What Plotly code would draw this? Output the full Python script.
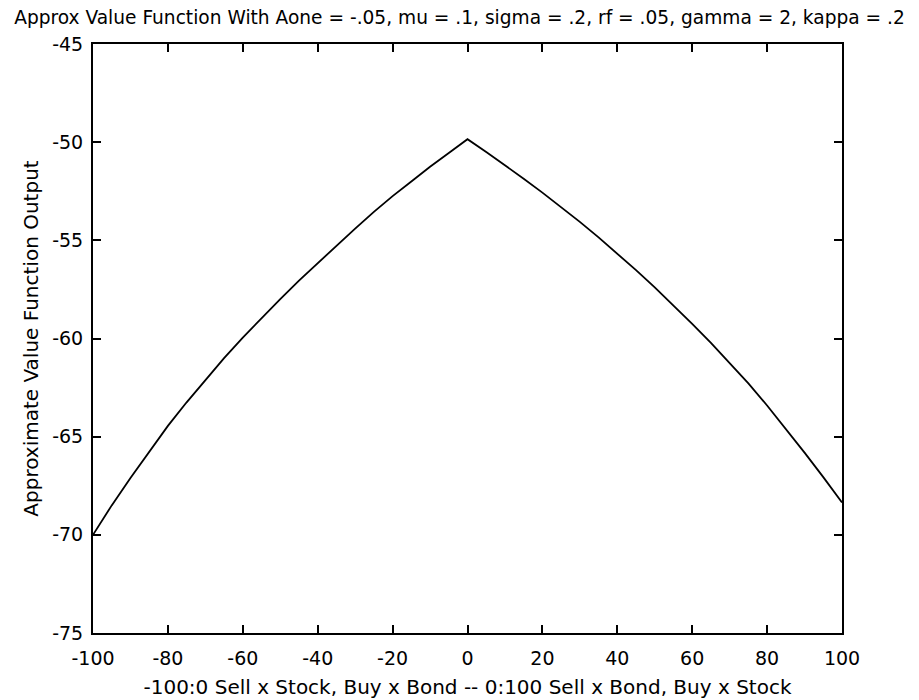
import plotly.graph_objects as go

x_vals = [-100, -95, -90, -85, -80, -75, -70, -65, -60, -55, -50, -45, -40, -35, -30,
          -25, -20, -15, -10, -5, 0, 5, 10, 15, 20, 25, 30, 35, 40, 45, 50, 55, 60,
          65, 70, 75, 80, 85, 90, 95, 100]
y_vals = [-70.0, -68.5, -67.1, -65.75, -64.45, -63.25, -62.1, -61.0, -59.95, -58.95, -58.0,
          -57.05, -56.15, -55.25, -54.4, -53.55, -52.75, -52.0, -51.25, -50.55, -49.85,
          -50.5, -51.17, -51.86, -52.57, -53.3, -54.06, -54.85, -55.67, -56.52, -57.4,
          -58.31, -59.25, -60.22, -61.23, -62.29, -63.41, -64.59, -65.81, -67.06, -68.35]

x_ticks = [-100, -80, -60, -40, -20, 0, 20, 40, 60, 80, 100]
y_ticks = [-75, -70, -65, -60, -55, -50, -45]

title_text = "Approx Value Function With Aone = -.05, mu = .1, sigma = .2, rf = .05, gamma = 2, kappa = .2"
x_title = "-100:0 Sell x Stock, Buy x Bond -- 0:100 Sell x Bond, Buy x Stock"
y_title = "Approximate Value Function Output"

font_family = "DejaVu Sans, Liberation Sans, sans-serif"

fig = go.Figure()
fig.add_trace(go.Scatter(x=x_vals, y=y_vals, mode="lines",
                         line=dict(color="black", width=1.8), showlegend=False))

axis_common = dict(showgrid=False, zeroline=False, showline=True, linecolor="black",
                   linewidth=2, mirror="ticks", ticks="inside", ticklen=8,
                   tickcolor="black", tickwidth=1.5, automargin=False,
                   tickfont=dict(family=font_family, size=19, color="black"))

fig.update_xaxes(range=[-100, 100], tickvals=x_ticks, ticktext=[str(v) for v in x_ticks],
                 ticklabelstandoff=7,
                 title=dict(text=x_title, font=dict(family=font_family, size=20, color="black"),
                            standoff=12),
                 **axis_common)
fig.update_yaxes(range=[-75, -45], tickvals=y_ticks, ticktext=[str(v) for v in y_ticks],
                 ticklabelstandoff=4,
                 title=dict(text=y_title, font=dict(family=font_family, size=20, color="black"),
                            standoff=8),
                 **axis_common)

fig.update_layout(
    width=919, height=700,
    margin=dict(l=93, r=77, t=44, b=67),
    paper_bgcolor="white", plot_bgcolor="white",
    title=dict(text=title_text, x=0.5, xanchor="center", y=0.975, yanchor="middle",
               font=dict(family=font_family, size=18.6, color="black")),
)

fig.write_html("out.html")
